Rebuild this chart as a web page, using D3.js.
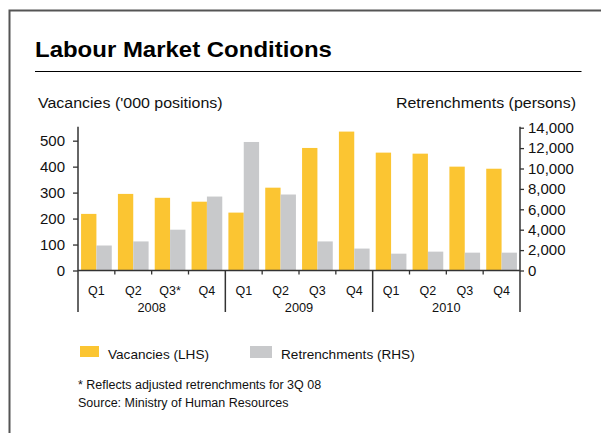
<!DOCTYPE html>
<html>
<head>
<meta charset="utf-8">
<script src="https://cdn.jsdelivr.net/npm/d3@7"></script>
<style>
  html, body { margin: 0; padding: 0; background: #fff; }
  svg { display: block; font-family: "Liberation Sans", Arial, sans-serif; }
</style>
</head>
<body>
<svg id="chart" width="601" height="433"></svg>
<script>
// ---- Data ----
const quarters = ["Q1", "Q2", "Q3*", "Q4", "Q1", "Q2", "Q3", "Q4", "Q1", "Q2", "Q3", "Q4"];
const years = ["2008", "2009", "2010"];
const vacancies = [218, 295, 280, 265, 223, 319, 472, 535, 454, 450, 400, 392];
const retrenchments = [2450, 2850, 4000, 7250, 12600, 7450, 2850, 2150, 1650, 1850, 1750, 1750];
const leftTicks = [0, 100, 200, 300, 400, 500];
const rightTicks = [0, 2000, 4000, 6000, 8000, 10000, 12000, 14000];
const seriesNames = ["Vacancies (LHS)", "Retrenchments (RHS)"];
const colors = ["#FBC532", "#C8C9CB"];

const svg = d3.select("#chart");

function stretchedText(x, y, size, sx, txt, anchor) {
  return svg.append("text")
    .attr("transform", `translate(${x},${y}) scale(${sx},1)`)
    .attr("font-size", size).attr("fill", "#111")
    .attr("text-anchor", anchor || "start")
    .text(txt);
}

// Frame
svg.append("path")
  .attr("d", "M9.5,433 L9.5,10.5 L601,10.5")
  .attr("fill", "none").attr("stroke", "#555").attr("stroke-width", 2);

// Title
stretchedText(35, 57, 22, 1.09, "Labour Market Conditions").attr("font-weight", "bold").attr("fill", "#000");
svg.append("line").attr("x1", 35).attr("x2", 581.5).attr("y1", 71.5).attr("y2", 71.5)
  .attr("stroke", "#000").attr("stroke-width", 1.2);

// Axis titles
stretchedText(38, 108, 15, 1.065, "Vacancies ('000 positions)");
stretchedText(576, 108, 15, 1.065, "Retrenchments (persons)", "end");

// Scales
const x0 = 78, x1 = 520, yBase = 270.5, yTop = 127.7, yBottomExt = 312;
const idx = quarters.map((d, i) => i);
const x = d3.scaleBand().domain(idx).range([x0, x1]).padding(0);
const xi = d3.scaleBand().domain([0, 1]).range([0, x.bandwidth()]).paddingInner(0).paddingOuter(0.2);
const yL = d3.scaleLinear().domain([0, 550]).range([yBase, yTop]);
const yR = d3.scaleLinear().domain([0, 14000]).range([yBase, yTop]);

// Bars
const g = svg.append("g");
g.selectAll("rect.vac").data(vacancies).join("rect").attr("class", "vac")
  .attr("x", (d, i) => x(i) + xi(0)).attr("width", xi.bandwidth())
  .attr("y", d => yL(d)).attr("height", d => yL(0) - yL(d))
  .attr("fill", colors[0]);
g.selectAll("rect.ret").data(retrenchments).join("rect").attr("class", "ret")
  .attr("x", (d, i) => x(i) + xi(1)).attr("width", xi.bandwidth())
  .attr("y", d => yR(d)).attr("height", d => yR(0) - yR(d))
  .attr("fill", colors[1]);

// Left axis
const axL = svg.append("g").attr("transform", `translate(${x0},0)`)
  .call(d3.axisLeft(yL).tickValues(leftTicks).tickSize(5).tickPadding(8));
axL.select(".domain").remove();
axL.selectAll("line").attr("stroke", "#333").attr("stroke-width", 1.3);
axL.selectAll("text").attr("font-size", 15).attr("fill", "#111")
  .attr("font-family", "Liberation Sans, Arial, sans-serif");
svg.append("line").attr("x1", x0).attr("x2", x0).attr("y1", yTop - 1).attr("y2", yBottomExt)
  .attr("stroke", "#333").attr("stroke-width", 1.5);

// Right axis
const axR = svg.append("g").attr("transform", `translate(${x1},0)`)
  .call(d3.axisRight(yR).tickValues(rightTicks).tickSize(4).tickPadding(4).tickFormat(d3.format(",")));
axR.select(".domain").remove();
axR.selectAll("line").attr("stroke", "#333").attr("stroke-width", 1.3);
axR.selectAll("text").attr("font-size", 15).attr("fill", "#111")
  .attr("font-family", "Liberation Sans, Arial, sans-serif");
svg.append("line").attr("x1", x1).attr("x2", x1).attr("y1", yTop - 1).attr("y2", yBottomExt)
  .attr("stroke", "#333").attr("stroke-width", 1.5);

// X axis
svg.append("line").attr("x1", x0).attr("x2", x1).attr("y1", yBase).attr("y2", yBase)
  .attr("stroke", "#333").attr("stroke-width", 1.5);
const xg = svg.append("g");
idx.forEach(i => {
  if (i === 0) return;
  const xx = x(i);
  const isYear = i % 4 === 0;
  xg.append("line").attr("x1", xx).attr("x2", xx).attr("y1", yBase)
    .attr("y2", isYear ? yBottomExt : yBase + 4)
    .attr("stroke", "#333").attr("stroke-width", isYear ? 1.5 : 1.3);
});
xg.selectAll("text.q").data(quarters).join("text").attr("class", "q")
  .attr("x", (d, i) => x(i) + x.bandwidth() / 2).attr("y", 294.5)
  .attr("text-anchor", "middle").attr("font-size", 12.5).attr("fill", "#111")
  .text(d => d);
xg.selectAll("text.yr").data(years).join("text").attr("class", "yr")
  .attr("x", (d, i) => (x(i * 4) + x(i * 4 + 3) + x.bandwidth()) / 2).attr("y", 312)
  .attr("text-anchor", "middle").attr("font-size", 12.8).attr("fill", "#111")
  .text(d => d);

// Legend
const legendX = [80, 250];
const lg = svg.append("g");
seriesNames.forEach((name, i) => {
  lg.append("rect").attr("x", legendX[i]).attr("y", 346)
    .attr("width", i === 0 ? 19 : 22).attr("height", i === 0 ? 11 : 12)
    .attr("fill", colors[i]);
  lg.append("text").attr("x", legendX[i] + (i === 0 ? 28 : 31)).attr("y", 358.5)
    .attr("font-size", 13.6).attr("fill", "#111").text(name);
});

// Notes
svg.append("text").attr("x", 78).attr("y", 389).attr("font-size", 12.5).attr("fill", "#111")
  .text("* Reflects adjusted retrenchments for 3Q 08");
svg.append("text").attr("x", 78).attr("y", 407).attr("font-size", 12.5).attr("fill", "#111")
  .text("Source: Ministry of Human Resources");
</script>
</body>
</html>
